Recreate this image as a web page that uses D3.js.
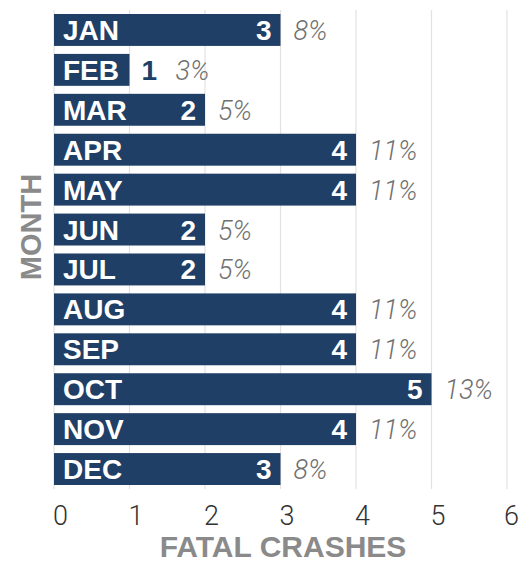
<!DOCTYPE html>
<html>
<head>
<meta charset="utf-8">
<script src="https://cdn.jsdelivr.net/npm/d3@7"></script>
<style>
  html, body { margin: 0; padding: 0; background: #fff; }
  svg { display: block; }
</style>
</head>
<body>
<svg id="chart" width="524" height="562"></svg>
<script>
// Fatal crashes by month
const months = ["JAN", "FEB", "MAR", "APR", "MAY", "JUN", "JUL", "AUG", "SEP", "OCT", "NOV", "DEC"];
const crashes = [3, 1, 2, 4, 4, 2, 2, 4, 4, 5, 4, 3];
const xTicks = [0, 1, 2, 3, 4, 5, 6];

const total = d3.sum(crashes);
const rows = months.map((m, i) => ({ month: m, value: crashes[i], pct: Math.round(crashes[i] / total * 100) + "%" }));

const navy = "#203f66";
const svg = d3.select("#chart");

const x = d3.scaleLinear().domain([0, 6]).range([54, 507]);
const y = d3.scaleBand().domain(months).range([10, 489]).paddingInner(0.2).paddingOuter(0.1);

// vertical gridlines
svg.append("g")
  .selectAll("line")
  .data(xTicks)
  .join("line")
  .attr("x1", d => x(d)).attr("x2", d => x(d))
  .attr("y1", 10).attr("y2", 489)
  .attr("stroke", "#e2e2e2")
  .attr("stroke-width", 1.2);

// bars
svg.append("g")
  .selectAll("rect")
  .data(rows)
  .join("rect")
  .attr("x", x(0))
  .attr("y", d => y(d.month))
  .attr("width", d => x(d.value) - x(0))
  .attr("height", y.bandwidth())
  .attr("fill", navy);

const labelFont = "'Liberation Sans', Arial, sans-serif";
const baseY = d => y(d.month) + y.bandwidth() / 2 + 10;

// month names inside the bars
svg.append("g")
  .selectAll("text")
  .data(rows)
  .join("text")
  .attr("x", x(0) + 9)
  .attr("y", baseY)
  .attr("fill", "#fff")
  .attr("font-family", labelFont)
  .attr("font-weight", "bold")
  .attr("font-size", 28)
  .text(d => d.month);

// counts: inside the bar end, or just outside when the bar is short
const fitsInside = d => x(d.value) - x(0) > 110;
svg.append("g")
  .selectAll("text")
  .data(rows)
  .join("text")
  .attr("x", d => fitsInside(d) ? x(d.value) - 9 : x(d.value) + 12)
  .attr("y", baseY)
  .attr("text-anchor", d => fitsInside(d) ? "end" : "start")
  .attr("fill", d => fitsInside(d) ? "#fff" : navy)
  .attr("font-family", labelFont)
  .attr("font-weight", "bold")
  .attr("font-size", 28)
  .text(d => d.value);

// share of the yearly total
svg.append("g")
  .selectAll("text")
  .data(rows)
  .join("text")
  .attr("x", d => fitsInside(d) ? x(d.value) + 13 : x(d.value) + 46)
  .attr("y", baseY)
  .attr("fill", "#707070")
  .attr("font-family", "Roboto, sans-serif")
  .attr("font-style", "italic")
  .attr("font-weight", 300)
  .attr("font-size", 27)
  .text(d => d.pct);

// x axis tick labels
const xAxis = d3.axisBottom(x).tickValues(xTicks).tickFormat(d3.format("d")).tickSize(0).tickPadding(0);
const ax = svg.append("g").call(xAxis);
ax.select(".domain").remove();
ax.selectAll("text")
  .attr("y", 525)
  .attr("dy", 0)
  .attr("dx", d => d === 6 ? 4 : 6)
  .attr("fill", "#333")
  .attr("font-family", "Roboto, sans-serif")
  .attr("font-weight", 300)
  .attr("font-size", 27);

// axis titles
svg.append("text")
  .attr("x", 283)
  .attr("y", 557)
  .attr("text-anchor", "middle")
  .attr("fill", "#8a8a8a")
  .attr("font-family", labelFont)
  .attr("font-weight", "bold")
  .attr("font-size", 30)
  .text("FATAL CRASHES");

svg.append("text")
  .attr("transform", "translate(41,227) rotate(-90)")
  .attr("text-anchor", "middle")
  .attr("fill", "#8a8a8a")
  .attr("font-family", labelFont)
  .attr("font-weight", "bold")
  .attr("font-size", 29)
  .text("MONTH");
</script>
</body>
</html>
